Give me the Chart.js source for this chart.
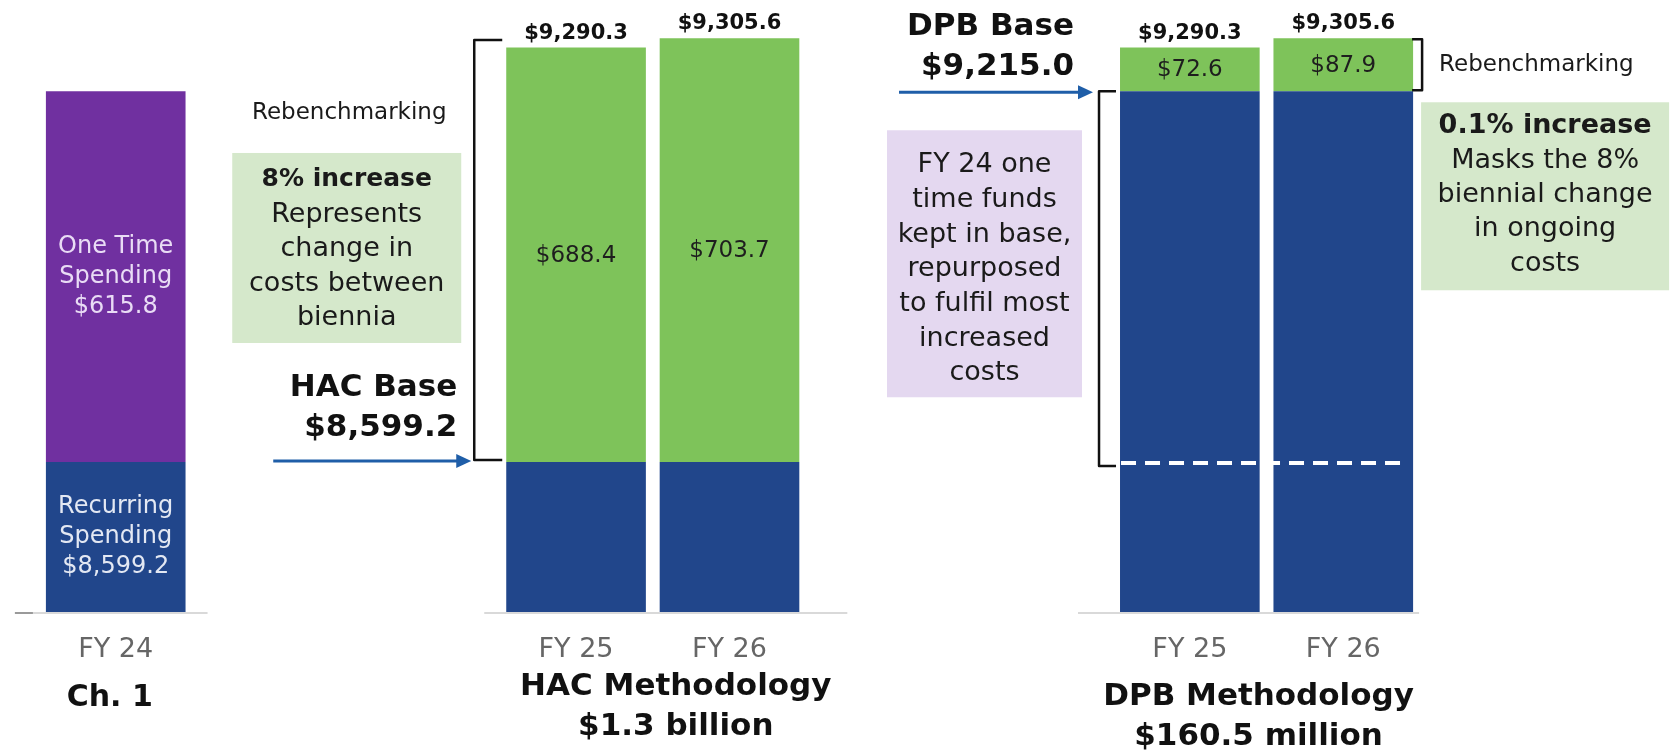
<!DOCTYPE html>
<html>
<head>
<meta charset="utf-8">
<script src="https://cdn.jsdelivr.net/npm/chart.js@4.4.1/dist/chart.umd.min.js"></script>
<style>
  html, body { margin: 0; padding: 0; background: #fff; }
  #wrap { width: 1670px; height: 755px; }
</style>
</head>
<body>
<div id="wrap"><canvas id="budgetChart" width="1670" height="755"></canvas></div>
<script>
// values in $ millions
var categories = ["FY 24", "", "", "FY 25", "FY 26", "", "", "FY 25", "FY 26"];
var baseSpending = [8599.2, null, null, 8599.2, 8599.2, null, null, 9215.0, 9215.0];
var oneTimeSpending = [615.8, null, null, null, null, null, null, null, null];
var rebenchmarking = [null, null, null, 688.4, 703.7, null, null, 72.6, 87.9];
var totals = [null, null, null, 9290.3, 9305.6, null, null, 9290.3, 9305.6];
var hacBase = 8599.2;
var dpbBase = 9215.0;
var panelTitles = [["Ch. 1"], ["HAC Methodology", "$1.3 billion"], ["DPB Methodology", "$160.5 million"]];
var hacNote = ["8% increase", "Represents", "change in", "costs between", "biennia"];
var dpbNote = ["0.1% increase", "Masks the 8%", "biennial change", "in ongoing", "costs"];
var oneTimeNote = ["FY 24 one", "time funds", "kept in base,", "repurposed", "to fulfil most", "increased", "costs"];

var FONT = "'DejaVu Sans', sans-serif";
var BLUE = "#21468b", PURPLE = "#7030a0", GREEN = "#7ec35a";

function money(v) {
  return "$" + v.toLocaleString("en-US", { minimumFractionDigits: 1, maximumFractionDigits: 1 });
}

function say(ctx, str, x, y, size, opts) {
  opts = opts || {};
  ctx.font = (opts.bold ? "bold " : "") + size + "px " + FONT;
  ctx.fillStyle = opts.color || "#111";
  ctx.textAlign = opts.align || "center";
  ctx.textBaseline = opts.baseline || "middle";
  ctx.fillText(str, x, y);
}

function bracket(ctx, x, y1, y2, xEnd) {
  ctx.beginPath();
  ctx.moveTo(xEnd, y1);
  ctx.lineTo(x, y1);
  ctx.lineTo(x, y2);
  ctx.lineTo(xEnd, y2);
  ctx.strokeStyle = "#111";
  ctx.lineWidth = 2.5;
  ctx.lineJoin = "round";
  ctx.stroke();
}

function arrow(ctx, x1, x2, y) {
  ctx.strokeStyle = "#1f5ea8";
  ctx.fillStyle = "#1f5ea8";
  ctx.lineWidth = 3;
  ctx.beginPath();
  ctx.moveTo(x1, y);
  ctx.lineTo(x2 - 12, y);
  ctx.stroke();
  ctx.beginPath();
  ctx.moveTo(x2, y);
  ctx.lineTo(x2 - 15, y - 7);
  ctx.lineTo(x2 - 15, y + 7);
  ctx.closePath();
  ctx.fill();
}

function noteBox(ctx, x1, y1, x2, y2, fill, lines, firstY, step, size, boldSize) {
  ctx.fillStyle = fill;
  ctx.fillRect(x1, y1, x2 - x1, y2 - y1);
  var cx = (x1 + x2) / 2;
  lines.forEach(function (s, i) {
    var bold = boldSize && i == 0;
    say(ctx, s, cx, y1 + firstY + i * step, bold ? boldSize : size, { bold: bold, color: "#1a1a1a" });
  });
}

var annotations = {
  id: "annotations",
  afterDatasetsDraw: function (chart) {
    var ctx = chart.ctx;
    var ys = chart.scales.y;
    var baseBars = chart.getDatasetMeta(0).data;
    var oneBars = chart.getDatasetMeta(1).data;
    var rebBars = chart.getDatasetMeta(2).data;
    var bottom = chart.chartArea.bottom;
    var Y = function (v) { return ys.getPixelForValue(v); };
    var L = function (i) { return baseBars[i].x - baseBars[i].width / 2; };
    var R = function (i) { return baseBars[i].x + baseBars[i].width / 2; };
    ctx.save();

    // axis baselines, one per panel
    ctx.strokeStyle = "#d9d9d9";
    ctx.lineWidth = 2;
    [[L(0) - 31, R(0) + 22], [L(3) - 22, R(4) + 48], [L(7) - 42, R(8) + 6]].forEach(function (seg) {
      ctx.beginPath();
      ctx.moveTo(seg[0], bottom + 1);
      ctx.lineTo(seg[1], bottom + 1);
      ctx.stroke();
    });
    ctx.strokeStyle = "#9a9a9a";
    ctx.beginPath();
    ctx.moveTo(L(0) - 31, bottom + 1);
    ctx.lineTo(L(0) - 13, bottom + 1);
    ctx.stroke();

    // labels inside the segments
    var b0 = baseBars[0];
    var bc = (b0.y + Math.min(b0.base, bottom)) / 2;
    ["Recurring", "Spending", money(baseSpending[0])].forEach(function (s, k) {
      say(ctx, s, b0.x, bc + (k - 1) * 30, 24, { color: "#e3e8f3" });
    });
    var p0 = oneBars[0];
    var pc = (p0.y + p0.base) / 2;
    ["One Time", "Spending", money(oneTimeSpending[0])].forEach(function (s, k) {
      say(ctx, s, p0.x, pc + (k - 1) * 30, 24, { color: "#e9dcf5" });
    });
    [3, 4, 7, 8].forEach(function (i) {
      var g = rebBars[i];
      say(ctx, money(rebenchmarking[i]), g.x, (g.y + g.base) / 2 + 1, 23, { color: "#1e1e1e" });
      say(ctx, money(totals[i]), g.x, g.y - 9, 21, { bold: true, baseline: "alphabetic" });
    });

    // dashed line showing the HAC base inside the DPB bars
    ctx.strokeStyle = "#ffffff";
    ctx.lineWidth = 4;
    ctx.setLineDash([15, 9]);
    ctx.beginPath();
    ctx.moveTo(L(7) + 1, Y(hacBase) + 1);
    ctx.lineTo(R(8) - 6, Y(hacBase) + 1);
    ctx.stroke();
    ctx.setLineDash([]);

    // HAC panel
    var l3 = L(3);
    var hy = Y(hacBase);
    bracket(ctx, l3 - 32, Y(totals[3]) - 6, hy - 2, l3 - 4);
    arrow(ctx, l3 - 233, l3 - 35, hy - 1);
    say(ctx, "HAC Base", l3 - 49, hy - 74, 31, { bold: true, align: "right" });
    say(ctx, money(hacBase), l3 - 49, hy - 34, 31, { bold: true, align: "right" });
    say(ctx, "Rebenchmarking", l3 - 157, hy - 349, 23, { color: "#1a1a1a" });
    noteBox(ctx, l3 - 274, hy - 309, l3 - 45, hy - 119, "#d5e8cb", hacNote, 27, 34.6, 27, 25);

    // DPB panel
    var l7 = L(7), r8 = R(8);
    var dy = Y(dpbBase);
    say(ctx, "DPB Base", l7 - 46, dy - 64, 31, { bold: true, align: "right" });
    say(ctx, money(dpbBase), l7 - 46, dy - 24, 31, { bold: true, align: "right" });
    arrow(ctx, l7 - 221, l7 - 27, dy + 1);
    bracket(ctx, l7 - 21, dy, hy + 4, l7 - 4);
    noteBox(ctx, l7 - 233, dy + 39, l7 - 38, dy + 306, "#e4d8f0", oneTimeNote, 35, 34.7, 27, 0);
    bracket(ctx, r8 + 9, rebBars[8].y + 1, dy - 1, r8 - 1);
    say(ctx, "Rebenchmarking", r8 + 26, (rebBars[8].y + dy) / 2, 23, { align: "left", color: "#1a1a1a" });
    noteBox(ctx, r8 + 8, dy + 11, r8 + 256, dy + 199, "#d5e8cb", dpbNote, 24, 34.4, 27, 27);

    // panel titles
    say(ctx, panelTitles[0][0], baseBars[0].x - 6, 698, 30, { bold: true });
    var hx = (baseBars[3].x + baseBars[4].x) / 2 + 23;
    say(ctx, panelTitles[1][0], hx, 687, 31, { bold: true });
    say(ctx, panelTitles[1][1], hx, 727, 31, { bold: true });
    var dx = (baseBars[7].x + baseBars[8].x) / 2 - 8;
    say(ctx, panelTitles[2][0], dx, 697, 31, { bold: true });
    say(ctx, panelTitles[2][1], dx, 737, 31, { bold: true });

    ctx.restore();
  }
};

Chart.defaults.font.family = FONT;

new Chart("budgetChart", {
  type: "bar",
  data: {
    labels: categories,
    datasets: [
      { label: "Base", data: baseSpending, backgroundColor: BLUE },
      { label: "One Time Spending", data: oneTimeSpending, backgroundColor: PURPLE },
      { label: "Rebenchmarking", data: rebenchmarking, backgroundColor: GREEN }
    ]
  },
  options: {
    responsive: false,
    animation: false,
    devicePixelRatio: 1,
    layout: { padding: { left: 39, right: 250, top: 10, bottom: 0 } },
    datasets: { bar: { barPercentage: 0.91, categoryPercentage: 1.0 } },
    plugins: { legend: { display: false }, tooltip: { enabled: false } },
    scales: {
      x: {
        stacked: true,
        grid: { display: false, drawTicks: false },
        border: { display: false },
        ticks: { color: "#666", font: { size: 27 }, padding: 22, autoSkip: false, maxRotation: 0 },
        afterFit: function (s) { s.height = 143; }
      },
      y: {
        stacked: true,
        display: false,
        min: 8350,
        max: 9350
      }
    }
  },
  plugins: [annotations]
});
</script>
</body>
</html>
